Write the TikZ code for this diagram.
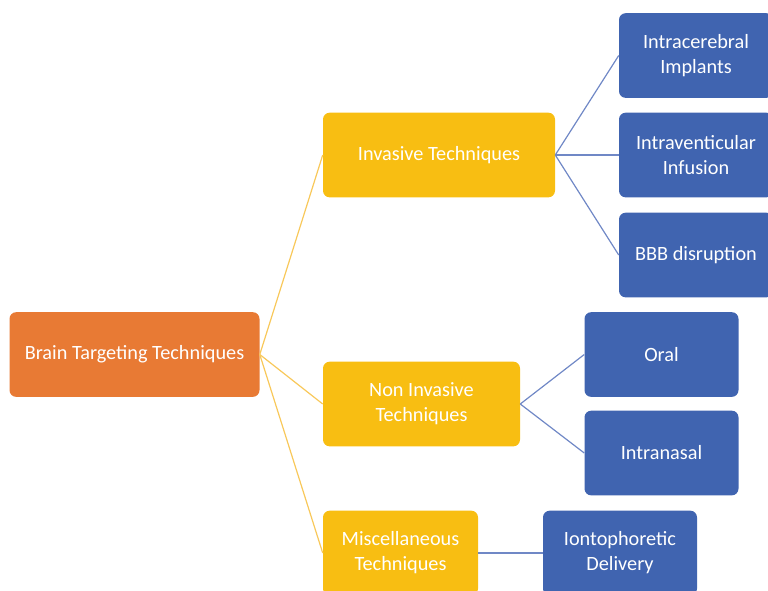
\documentclass[tikz,border=0pt]{standalone}
\usepackage{fontspec}
\setmainfont{Carlito}
\definecolor{rootorange}{RGB}{232,122,52}
\definecolor{gold}{RGB}{248,190,18}
\definecolor{steel}{RGB}{64,100,176}
\definecolor{goldline}{RGB}{248,200,90}
\definecolor{steelline}{RGB}{112,136,198}

\begin{document}
\begin{tikzpicture}[x=0.75pt,y=0.75pt,yscale=-1,
  box/.style={rounded corners=5pt, text=white, align=center, inner sep=0pt,
    minimum height=63.5pt, font=\fontsize{15.2}{18.7}\selectfont},
  rootbox/.style={box, fill=rootorange, minimum width=187.5pt},
  levelbox/.style={box, fill=gold},
  leafbox/.style={box, fill=steel, minimum width=115.5pt},
  goldlink/.style={draw=goldline, line width=0.9pt},
  steellink/.style={draw=steelline, line width=0.9pt}]
\useasboundingbox (0,0) rectangle (768,590);
\clip (0,0) rectangle (768,590);

% Root
\node [rootbox] (brain) at (134.5,354.5) {Brain Targeting Techniques};

% Technique groups
\node [levelbox, minimum width=174pt] (invasive) at (439,155) {Invasive Techniques};
\node [levelbox, minimum width=147.75pt] (noninv) at (421.5,404) {Non Invasive\\Techniques};
\node [levelbox, minimum width=116.25pt] (misc) at (400.5,553) {Miscellaneous\\Techniques};

% Leaves
\node [leafbox] (implants) at (696,55.5) {Intracerebral\\Implants};
\node [leafbox] (infusion) at (696,155) {Intraventicular\\Infusion};
\node [leafbox] (bbb) at (696,255) {BBB disruption};
\node [leafbox] (oral) at (661.5,354.5) {Oral};
\node [leafbox] (nasal) at (661.5,453) {Intranasal};
\node [leafbox] (ionto) at (620,553) {Iontophoretic\\Delivery};

% Links
\draw [goldlink] (brain.east) -- (invasive.west);
\draw [goldlink] (brain.east) -- (noninv.west);
\draw [goldlink] (brain.east) -- (misc.west);
\draw [steellink] (invasive.east) -- (implants.west);
\draw [steellink] (invasive.east) -- (infusion.west);
\draw [steellink] (invasive.east) -- (bbb.west);
\draw [steellink] (noninv.east) -- (oral.west);
\draw [steellink] (noninv.east) -- (nasal.west);
\draw [steellink] (misc.east) -- (ionto.west);

\end{tikzpicture}
\end{document}
